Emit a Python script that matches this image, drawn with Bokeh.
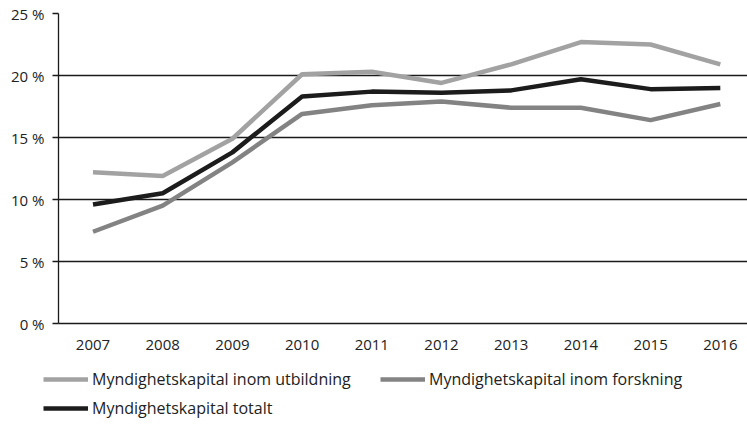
from bokeh.plotting import figure
from bokeh.models import Range1d, FixedTicker, PrintfTickFormatter, Legend, LegendItem
from bokeh.embed import file_html
from bokeh.resources import INLINE

years = [2007, 2008, 2009, 2010, 2011, 2012, 2013, 2014, 2015, 2016]
utbildning = [12.2, 11.9, 14.9, 20.1, 20.3, 19.4, 20.9, 22.7, 22.5, 20.9]
forskning = [7.4, 9.5, 13.0, 16.9, 17.6, 17.9, 17.4, 17.4, 16.4, 17.7]
totalt = [9.6, 10.5, 13.8, 18.3, 18.7, 18.6, 18.8, 19.7, 18.9, 19.0]
y_ticks = [0, 5, 10, 15, 20, 25]
labels = ["Myndighetskapital inom utbildning", "Myndighetskapital inom forskning",
          "Myndighetskapital totalt"]
colors = ["#a2a2a2", "#838383", "#1c1c1c"]

FONT = "Open Sans"
TXT = "#222222"
LW = 4.5

p = figure(width=747, height=355, output_backend="svg", toolbar_location=None,
           x_range=Range1d(2006.505, 2016.39), y_range=Range1d(0, 25),
           min_border_left=58, min_border_right=0, min_border_top=13, min_border_bottom=32)
p.outline_line_color = None

for ys, c in zip([utbildning, forskning, totalt], colors):
    p.line(years, ys, line_color=c, line_width=LW)

p.xgrid.grid_line_color = None
p.ygrid.ticker = FixedTicker(ticks=y_ticks)
p.ygrid.grid_line_color = "#1a1a1a"
p.ygrid.grid_line_width = 1.3

p.xaxis.ticker = FixedTicker(ticks=years)
p.xaxis.major_tick_line_color = None
p.xaxis.minor_tick_line_color = None
p.xaxis.axis_line_color = "#1a1a1a"
p.xaxis.axis_line_width = 1.3
p.xaxis.major_label_standoff = 10
p.xaxis.major_label_text_font = FONT
p.xaxis.major_label_text_font_size = "15px"
p.xaxis.major_label_text_color = TXT

p.yaxis.ticker = FixedTicker(ticks=y_ticks)
p.yaxis.formatter = PrintfTickFormatter(format="%d %%")
p.yaxis.minor_tick_line_color = None
p.yaxis.major_tick_out = 6
p.yaxis.major_tick_in = 0
p.yaxis.major_tick_line_color = "#1a1a1a"
p.yaxis.major_tick_line_width = 1.3
p.yaxis.axis_line_color = "#1a1a1a"
p.yaxis.axis_line_width = 1.3
p.yaxis.major_label_standoff = 8
p.yaxis.major_label_text_font = FONT
p.yaxis.major_label_text_font_size = "15px"
p.yaxis.major_label_text_color = TXT

# legend drawn in its own small figure below the chart
q = figure(width=747, height=68, output_backend="svg", toolbar_location=None,
           x_range=Range1d(0, 1), y_range=Range1d(0, 1),
           x_axis_type=None, y_axis_type=None,
           min_border_left=0, min_border_right=0, min_border_top=0, min_border_bottom=0)
q.outline_line_color = None
items = []
for lab, c in zip(labels, colors):
    r = q.line([5, 6], [5, 6], line_color=c, line_width=LW)
    items.append(LegendItem(label=lab, renderers=[r]))

legend = Legend(items=items, location=(43, 4), orientation="horizontal", ncols=2)
legend.glyph_width = 45
legend.glyph_height = 14
legend.label_height = 14
legend.label_width = 281
legend.label_standoff = 4
legend.spacing = 7
legend.padding = 0
legend.margin = 0
legend.border_line_color = None
legend.background_fill_alpha = 0
legend.label_text_font = FONT
legend.label_text_font_size = "16px"
legend.label_text_color = TXT
q.add_layout(legend, "center")

open("out.html", "w").write(file_html([p, q], INLINE))
